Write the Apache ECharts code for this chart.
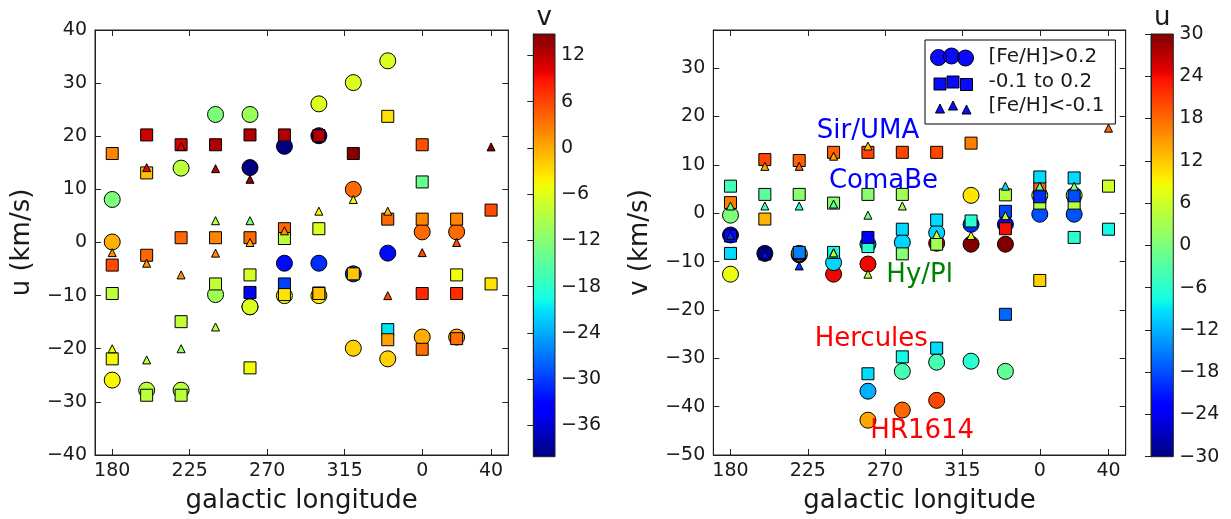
<!DOCTYPE html>
<html>
<head>
<meta charset="utf-8">
<script src="https://cdn.jsdelivr.net/npm/echarts@6/dist/echarts.min.js"></script>
<style>
html,body{margin:0;padding:0;background:#fff;}
#chart{width:1231px;height:519px;}
</style>
</head>
<body>
<div id="chart"></div>
<script>
// ---------- tick labels ----------
const LON_TICKS = [180, 225, 270, 315, 360, 400];
const U_TICKS = [-40, -30, -20, -10, 0, 10, 20, 30, 40];
const V_TICKS = [-50, -40, -30, -20, -10, 0, 10, 20, 30];
const V_BAR_TICKS = [-36, -30, -24, -18, -12, -6, 0, 6, 12];
const U_BAR_TICKS = [-30, -24, -18, -12, -6, 0, 6, 12, 18, 24, 30];
const V_COLOR_RANGE = [-40.07, 14.79];
const U_COLOR_RANGE = [-30, 30];

// ---------- categories (metallicity classes) ----------
const CLASS_NAMES = ['[Fe/H]>0.2', '-0.1 to 0.2', '[Fe/H]<-0.1'];

// ---------- [Fe/H] > 0.2 (circles) ----------
const circleLon = [180,180,180, 200, 220,220, 240,240, 260,260,260,260, 280,280,280, 300,300,300,300, 320,320,320,320, 340,340,340, 360,360, 380,380];
const circleU   = [8.1,0.1,-25.9, -27.8, -27.8,14.0, 24.1,-9.8, 24.1,14.1,-12.1,-12.1, 18.1,-3.9,-10, 26.1,20.1,-3.9,-10, 30.1,10,-5.9,-19.9, 34.2,-2.0,-21.9, 2.0,-17.8, 2.0,-17.8];
const circleV   = [-12.6,-0.4,-4.5, -8.3, -8.6,-8.3, -12.6,-10.2, -10.5,-42.8,-36.8,-6.4, -40.7,-32.7,-6.0, -6.2,-38.7,-30.8,-4.0, -6.4,3.7,-30.6,-2.3, -6.4,-32.7,-2.3, 3.7,-0.2, 3.7,-0.2];

// ---------- -0.1 to 0.2 (squares) ----------
const squareLon = [180,180,180,180, 200,200,200,200, 220,220,220,220, 240,240,240, 260,260,260,260,260, 280,280,280,280,280, 300,300,300,300, 320,320, 340,340,340,340, 360,360,360,360,360, 380,380,380,380, 400,400];
const squareU   = [16.75,-4.25,-9.6,-21.9, 20.25,13.1,-2.4,-28.75, 18.4,0.9,-28.75,-14.9, 18.4,0.9,-7.8, 20.25,0.9,-6.1,-9.4,-23.6, 20.25,2.6,0.75,-7.8,-9.8, 20.1,2.6,-9.5,-9.6, 16.75,-5.9, 23.75,4.4,-16.4,-18.3, 18.4,11.4,4.4,-9.6,-20.1, 4.4,-6.1,-9.6,-18.1, 6.1,-7.8];
const squareV   = [2.2,5.6,-8.3,-4.7, 11.1,-1.2,3.9,-8.4, 10.9,3.9,-8.4,-8.1, 12.6,2.1,-8.1, 12.6,3.9,-6.9,-33.2,-5.0, 12.6,3.9,-8.4,-29.7,-3.3, 12.6,-6.4,-27.9,-1.4, 14.5,-1.6, -3.2,3.8,-20.9,0.4, 5.3,-13.9,2.1,7.5,3.4, 2.1,-5.0,7.3,3.6, 5.6,-3.3];

// ---------- [Fe/H] < -0.1 (triangles) ----------
const triLon = [180,180, 200,200,200, 220,220,220, 240,240,240,240, 260,260,260, 280, 300, 320, 340,340, 360, 380, 400];
const triU   = [-1.9,-20, 14.1,-3.9,-22.1, 18.1,-6.1,-20, 13.9,-15.9,4.1,-2, 11.9,4.1,0, 2.2, 5.9, 8.1, 5.9,-10, -1.9, 0, 18];
const triV   = [1.5,-4.6, 9.7,1.5,-8.5, 9.7,1.5,-10.9, 11.8,-8.2,-8.2,1.9, 13.9,-12.6,-0.4, 1.5, -4.4, -4.6, -0.5,5.6, 5.6, 5.6, 17.6];

// ---------- annotations (right panel) ----------
const noteText  = ['Sir/UMA', 'ComaBe', 'Hy/Pl', 'Hercules', 'HR1614'];
const noteLon   = [230.2, 237.3, 270.7, 229.0, 261.4];
const noteV     = [16.95, 6.65, -12.9, -26.1, -45.0];
const noteColor = ['#0000ff', '#0000ff', '#008000', '#ff0000', '#ff0000'];

// ---------- jet colormap ----------
const JET = {
  r: [[0,0],[0.35,0],[0.66,1],[0.89,1],[1,0.5]],
  g: [[0,0],[0.125,0],[0.375,1],[0.64,1],[0.91,0],[1,0]],
  b: [[0,0.5],[0.11,1],[0.34,1],[0.65,0],[1,0]]
};
function seg(s, t) {
  for (let i = 1; i < s.length; i++) {
    if (t <= s[i][0]) {
      const a = s[i-1], b = s[i];
      return a[1] + (b[1]-a[1]) * (t-a[0]) / (b[0]-a[0]);
    }
  }
  return s[s.length-1][1];
}
function jet(t) {
  const c = k => Math.round(255 * seg(JET[k], t));
  return 'rgb(' + c('r') + ',' + c('g') + ',' + c('b') + ')';
}
const jetColors = [];
for (let i = 0; i <= 100; i++) jetColors.push(jet(i / 100));
const jetStops = jetColors.map((c, i) => ({offset: i / 100, color: c}));

const FONT = 'DejaVu Sans';
const TXT = '#1a1a1a';
const fmtNum = v => (v < 0 ? '\u2212' + Math.abs(v) : String(v));
const fmtLon = v => String(v >= 360 ? v - 360 : v);
const clamp = (x, r) => Math.min(r[1], Math.max(r[0], x));

function pts(lon, y, c, range) {
  return lon.map((l, i) => [l, y[i], clamp(c[i], range)]);
}
function scatter(name, symbol, size, data, xi, yi) {
  return {
    type: 'scatter', name, symbol, symbolSize: size,
    xAxisIndex: xi, yAxisIndex: yi, data,
    itemStyle: {borderColor: '#000', borderWidth: 1, opacity: 1},
    emphasis: {disabled: true}
  };
}

const axisLine = {show: true, onZero: false, lineStyle: {color: '#222', width: 1}};
function mainX(gridIndex, withLabels, name) {
  return {
    type: 'value', gridIndex, min: 170, max: 410,
    position: withLabels ? 'bottom' : 'top',
    axisLine, splitLine: {show: false},
    axisTick: {show: true, inside: true, length: 6, customValues: LON_TICKS, lineStyle: {color: '#222'}},
    axisLabel: {show: withLabels, customValues: LON_TICKS, formatter: fmtLon, margin: 7,
      fontFamily: FONT, fontSize: 19, color: TXT},
    name: withLabels ? name : '', nameLocation: 'middle', nameGap: 33,
    nameTextStyle: {fontFamily: FONT, fontSize: 26, color: TXT, verticalAlign: 'top'}
  };
}
function mainY(gridIndex, withLabels, min, max, ticks, name) {
  return {
    type: 'value', gridIndex, min, max,
    position: withLabels ? 'left' : 'right',
    axisLine, splitLine: {show: false},
    axisTick: {show: true, inside: true, length: 6, customValues: ticks, lineStyle: {color: '#222'}},
    axisLabel: {show: withLabels, customValues: ticks, formatter: fmtNum, margin: 8,
      fontFamily: FONT, fontSize: 19, color: TXT},
    name: withLabels ? name : '', nameLocation: 'middle', nameGap: 60,
    nameTextStyle: {fontFamily: FONT, fontSize: 26, color: TXT}
  };
}
function barX(gridIndex, name) {
  return {
    type: 'value', gridIndex, min: 0, max: 1, position: 'top',
    axisLine: {show: false}, axisTick: {show: false}, axisLabel: {show: false}, splitLine: {show: false},
    name, nameLocation: 'middle', nameGap: 3,
    nameTextStyle: {fontFamily: FONT, fontSize: 26, color: TXT}
  };
}
function barY(gridIndex, range, ticks) {
  return {
    type: 'value', gridIndex, min: range[0], max: range[1], position: 'right',
    axisLine: {show: true, lineStyle: {color: '#222'}}, splitLine: {show: false},
    axisTick: {show: true, inside: true, length: 6, customValues: ticks, lineStyle: {color: '#222'}},
    axisLabel: {show: true, customValues: ticks, formatter: fmtNum, margin: 6,
      fontFamily: FONT, fontSize: 19, color: TXT}
  };
}
const barGrid = (left, width) => ({
  left, top: 30, width, height: 426.7, show: true,
  borderColor: '#222', borderWidth: 1,
  backgroundColor: {type: 'linear', x: 0, y: 1, x2: 0, y2: 0, colorStops: jetStops}
});

// legend icons: three markers each, drawn in a 53x18 box (icon occupies left 43px)
const circ = (cx, cy, r) => `M${cx-r} ${cy} A${r} ${r} 0 1 0 ${cx+r} ${cy} A${r} ${r} 0 1 0 ${cx-r} ${cy} Z `;
const sq = (x, y, s) => `M${x} ${y} L${x+s} ${y} L${x+s} ${y+s} L${x} ${y+s} Z `;
const tri = (x, y, s) => `M${x+s/2} ${y} L${x+s} ${y+s} L${x} ${y+s} Z `;
const BOX = 'M0 0 M53 18 ';
const iconCircles = 'path://' + BOX + circ(8, 9.5, 8) + circ(21, 8, 8) + circ(35, 10, 8);
const iconSquares = 'path://' + BOX + sq(3.5, 5.5, 12) + sq(16.5, 3.5, 12) + sq(30, 6, 12);
const iconTris = 'path://' + BOX + tri(5, 7, 9) + tri(18, 4, 9) + tri(31.5, 8, 9);
const legendStyle = {color: '#0a0aff', borderColor: '#000', borderWidth: 1};

const option = {
  animation: false,
  backgroundColor: '#fff',
  grid: [
    {left: 95, top: 30, width: 413.3, height: 426.7, show: true, borderColor: '#222', borderWidth: 1},
    {left: 713.3, top: 30, width: 412.4, height: 426.7, show: true, borderColor: '#222', borderWidth: 1},
    barGrid(533.3, 21.7),
    barGrid(1151, 22.3)
  ],
  xAxis: [
    mainX(0, true, 'galactic longitude'), mainX(0, false),
    mainX(1, true, 'galactic longitude'), mainX(1, false),
    barX(2, 'v'), barX(3, 'u')
  ],
  yAxis: [
    mainY(0, true, -40, 40, U_TICKS, 'u (km/s)'), mainY(0, false, -40, 40, U_TICKS),
    mainY(1, true, -50, 37.9, V_TICKS, 'v (km/s)'), mainY(1, false, -50, 37.9, V_TICKS),
    barY(2, V_COLOR_RANGE, V_BAR_TICKS), barY(3, U_COLOR_RANGE, U_BAR_TICKS)
  ],
  visualMap: [
    {type: 'continuous', show: false, seriesIndex: [0, 1, 2], dimension: 2,
      min: V_COLOR_RANGE[0], max: V_COLOR_RANGE[1], inRange: {color: jetColors}},
    {type: 'continuous', show: false, seriesIndex: [3, 4, 5], dimension: 2,
      min: U_COLOR_RANGE[0], max: U_COLOR_RANGE[1], inRange: {color: jetColors}}
  ],
  legend: {
    left: 925, top: 40, orient: 'vertical',
    backgroundColor: '#fff', borderColor: '#000', borderWidth: 1, borderRadius: 0,
    padding: [7, 11, 8, 5], itemGap: 4.5, itemWidth: 53, itemHeight: 18,
    selectedMode: false,
    textStyle: {fontFamily: FONT, fontSize: 20, color: TXT, lineHeight: 20},
    data: [
      {name: CLASS_NAMES[0], icon: iconCircles, itemStyle: legendStyle},
      {name: CLASS_NAMES[1], icon: iconSquares, itemStyle: legendStyle},
      {name: CLASS_NAMES[2], icon: iconTris, itemStyle: legendStyle}
    ]
  },
  series: [
    // left panel: u vs longitude, coloured by v
    scatter(CLASS_NAMES[0], 'circle', 16, pts(circleLon, circleU, circleV, V_COLOR_RANGE), 0, 0),
    scatter(CLASS_NAMES[1], 'rect', 12, pts(squareLon, squareU, squareV, V_COLOR_RANGE), 0, 0),
    scatter(CLASS_NAMES[2], 'triangle', 8, pts(triLon, triU, triV, V_COLOR_RANGE), 0, 0),
    // right panel: v vs longitude, coloured by u
    scatter(CLASS_NAMES[0], 'circle', 16, pts(circleLon, circleV, circleU, U_COLOR_RANGE), 2, 2),
    scatter(CLASS_NAMES[1], 'rect', 12, pts(squareLon, squareV, squareU, U_COLOR_RANGE), 2, 2),
    scatter(CLASS_NAMES[2], 'triangle', 8, pts(triLon, triV, triU, U_COLOR_RANGE), 2, 2),
    // annotations
    {
      type: 'scatter', name: 'notes', xAxisIndex: 2, yAxisIndex: 2, symbolSize: 0, silent: true,
      itemStyle: {color: '#000', opacity: 1},
      data: noteText.map((t, i) => ({
        name: t, value: [noteLon[i], noteV[i]],
        label: {color: noteColor[i]}
      })),
      label: {show: true, position: 'right', distance: 0, formatter: '{b}', opacity: 1,
        textBorderWidth: 0, textShadowBlur: 0, fontFamily: FONT, fontSize: 26},
      emphasis: {disabled: true},
      z: 5
    }
  ]
};

const chart = echarts.init(document.getElementById('chart'), null, {renderer: 'canvas'});
chart.setOption(option);
</script>
</body>
</html>
